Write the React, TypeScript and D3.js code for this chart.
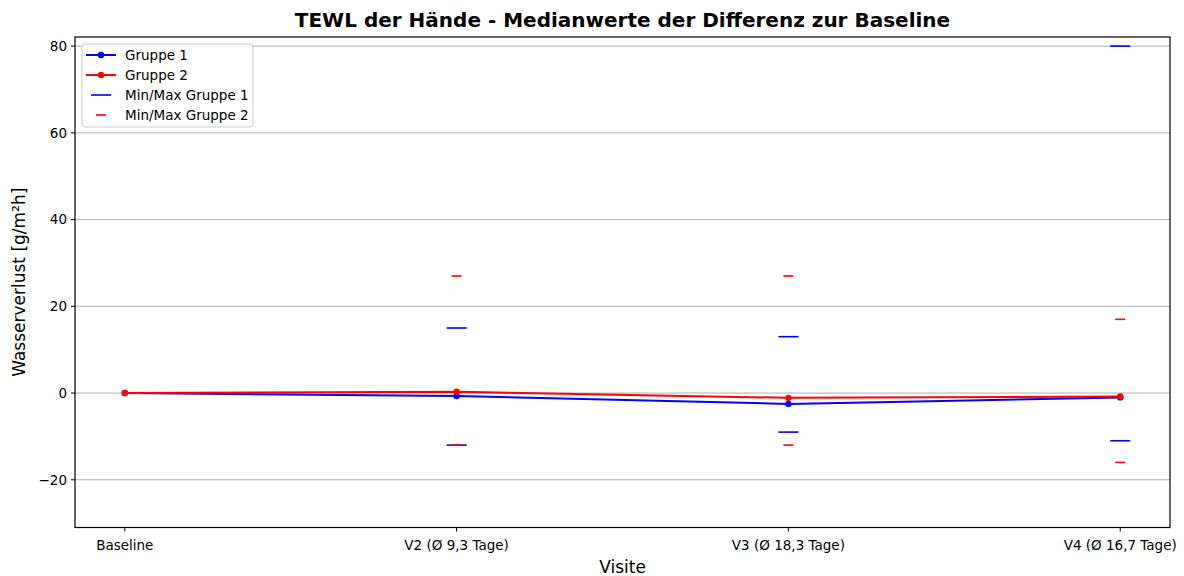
import React from "react";
import * as d3 from "d3";

const categories = ["Baseline", "V2 (Ø 9,3 Tage)", "V3 (Ø 18,3 Tage)", "V4 (Ø 16,7 Tage)"];
const median1 = [0, -0.7, -2.5, -1.0];
const median2 = [0, 0.3, -1.1, -0.8];
const max1 = [null, 15, 13, 80];
const min1 = [null, -12, -9, -11];
const max2 = [null, 27, 27, 17];
const min2 = [null, -12, -12, -16];
const yTicks = [-20, 0, 20, 40, 60, 80];

const W = 1184, H = 576;
const L = 75, R = 1170, T = 37, B = 527.5;
const FONT = "DejaVu Sans, sans-serif";

export default function App() {
  const x = d3.scaleLinear().domain([-0.15, 3.15]).range([L, R]);
  const y = d3.scaleLinear().domain([-31, 82.1]).range([B, T]);
  const line = d3.line<number>().x((_, i) => x(i)).y((d) => y(d));
  const blue = "#0000ff";
  const red = "#ff0000";

  const minmax = (arr: (number | null)[], color: string, half: number, key: string) =>
    arr.map((v, i) =>
      v === null ? null : (
        <line key={key + i} x1={x(i) - half} x2={x(i) + half} y1={y(v)} y2={y(v)} stroke={color} strokeWidth={1.6} />
      )
    );

  const legendItems = [
    { label: "Gruppe 1", color: blue, type: "line" },
    { label: "Gruppe 2", color: red, type: "line" },
    { label: "Min/Max Gruppe 1", color: blue, type: "wide" },
    { label: "Min/Max Gruppe 2", color: red, type: "narrow" },
  ];

  return (
    <svg width={W} height={H} style={{ position: "absolute", left: 0, top: 0 }} fontFamily={FONT}>
      <rect x={0} y={0} width={W} height={H} fill="#fff" />
      <text x={(L + R) / 2} y={27} textAnchor="middle" fontSize={20} fontWeight="bold">
        TEWL der Hände - Medianwerte der Differenz zur Baseline
      </text>
      {yTicks.map((t) => (
        <g key={t}>
          <line x1={L} x2={R} y1={y(t)} y2={y(t)} stroke="#b0b0b0" strokeWidth={1} />
          <line x1={L - 4} x2={L} y1={y(t)} y2={y(t)} stroke="#000" strokeWidth={1} />
          <text x={L - 8} y={y(t)} dy="0.35em" textAnchor="end" fontSize={13.5}>
            {t < 0 ? "\u2212" + Math.abs(t) : t}
          </text>
        </g>
      ))}
      {categories.map((c, i) => (
        <g key={c}>
          <line x1={x(i)} x2={x(i)} y1={B} y2={B + 4} stroke="#000" strokeWidth={1} />
          <text x={x(i)} y={B + 22} textAnchor="middle" fontSize={13.5}>
            {c}
          </text>
        </g>
      ))}
      <text x={(L + R) / 2} y={573} textAnchor="middle" fontSize={17}>
        Visite
      </text>
      <text transform={`translate(25,${(T + B) / 2}) rotate(-90)`} textAnchor="middle" fontSize={17}>
        Wasserverlust [g/m²h]
      </text>

      {minmax(max1, blue, 10, "ma1")}
      {minmax(min1, blue, 10, "mi1")}
      {minmax(max2, red, 5, "ma2")}
      {minmax(min2, red, 5, "mi2")}

      <path d={line(median1) || ""} fill="none" stroke={blue} strokeWidth={2} />
      {median1.map((v, i) => (
        <circle key={"c1" + i} cx={x(i)} cy={y(v)} r={3.2} fill={blue} />
      ))}
      <path d={line(median2) || ""} fill="none" stroke={red} strokeWidth={2} />
      {median2.map((v, i) => (
        <circle key={"c2" + i} cx={x(i)} cy={y(v)} r={3.2} fill={red} />
      ))}

      <rect x={L} y={T} width={R - L} height={B - T} fill="none" stroke="#000" strokeWidth={1.2} />

      <g>
        <rect x={82} y={44} width={171} height={83} rx={3} fill="#fff" fillOpacity={0.85} stroke="#cccccc" strokeWidth={1} />
        {legendItems.map((it, k) => {
          const yy = 55 + k * 20;
          return (
            <g key={it.label}>
              {it.type === "line" ? (
                <>
                  <line x1={86} x2={116} y1={yy} y2={yy} stroke={it.color} strokeWidth={2} />
                  <circle cx={101} cy={yy} r={3.2} fill={it.color} />
                </>
              ) : it.type === "wide" ? (
                <line x1={91} x2={111} y1={yy} y2={yy} stroke={it.color} strokeWidth={1.6} />
              ) : (
                <line x1={96} x2={106} y1={yy} y2={yy} stroke={it.color} strokeWidth={1.6} />
              )}
              <text x={125} y={yy} dy="0.35em" fontSize={13.5}>
                {it.label}
              </text>
            </g>
          );
        })}
      </g>
    </svg>
  );
}
